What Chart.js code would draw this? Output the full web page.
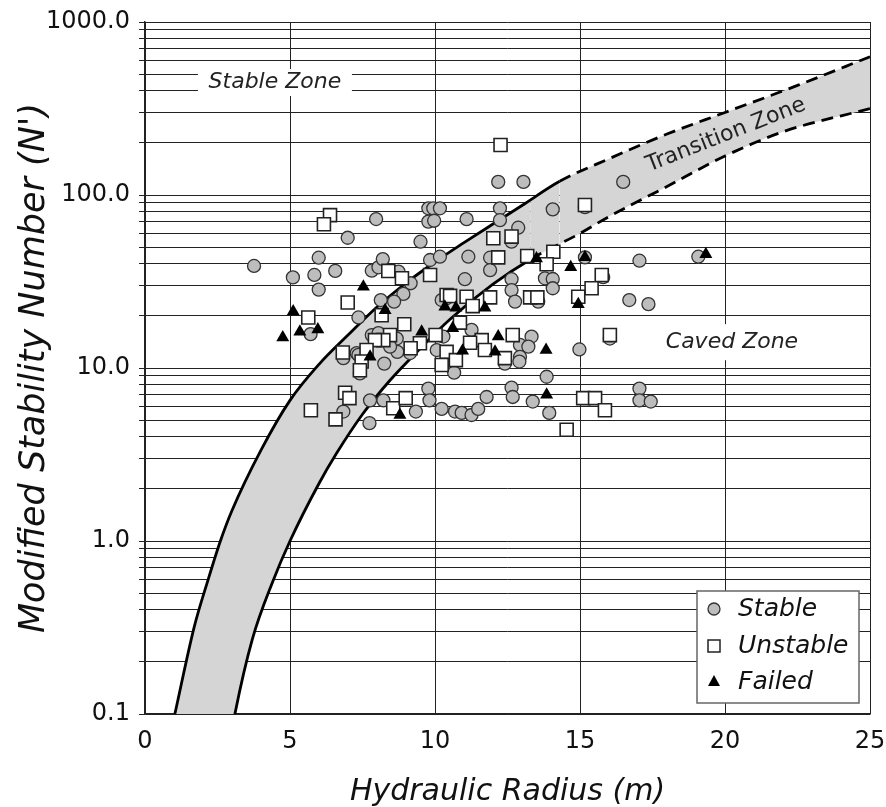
<!DOCTYPE html>
<html>
<head>
<meta charset="utf-8">
<script src="https://cdn.jsdelivr.net/npm/chart.js@4.4.0/dist/chart.umd.min.js"></script>
<style>
  html, body { margin: 0; padding: 0; background: #fff; }
</style>
</head>
<body>
<canvas id="stabilityChart" width="886" height="807"></canvas>
<script>
// Hydraulic radius (m), modified stability number N'
const stablePoints = [
  [3.76, 38.9], [5.10, 33.4], [5.84, 34.5], [5.99, 43.4], [5.99, 28.4], [6.56, 36.4],
  [6.99, 56.6], [7.97, 72.6], [7.82, 36.5], [8.05, 38.2], [8.20, 42.6], [8.13, 24.7],
  [7.36, 19.6], [5.71, 15.7], [9.77, 83.8], [9.94, 83.8], [10.17, 83.8], [9.77, 70.2],
  [9.97, 71.0], [9.50, 53.7], [8.74, 36.1], [9.16, 30.9], [9.83, 42.1], [10.17, 44.0],
  [8.91, 26.8], [8.59, 24.2], [10.40, 25.3], [10.29, 15.2], [7.82, 15.5], [8.05, 15.9],
  [8.68, 14.8], [8.70, 12.4], [8.45, 13.3], [9.14, 12.2], [10.06, 12.7], [6.84, 11.4],
  [7.30, 12.2], [7.41, 9.3], [8.25, 10.6], [6.84, 5.6], [7.74, 4.8], [7.76, 6.5],
  [8.22, 6.5], [9.34, 5.6], [9.77, 7.6], [9.81, 6.5], [10.23, 5.8], [12.18, 119],
  [13.05, 119], [12.24, 83.8], [11.09, 72.5], [12.24, 71.6], [12.87, 64.7], [14.06, 82.6],
  [15.17, 85.0], [12.64, 53.7], [11.15, 44.0], [11.90, 43.4], [11.90, 36.8], [15.17, 43.6],
  [11.03, 32.6], [12.64, 32.6], [13.79, 33.0], [14.06, 32.7], [14.06, 28.9], [12.64, 28.2],
  [12.76, 24.2], [13.56, 24.2], [11.26, 16.6], [13.33, 15.2], [12.93, 13.6], [13.22, 13.3],
  [12.41, 10.6], [12.93, 11.6], [12.91, 10.9], [14.98, 12.8], [10.66, 9.4], [13.85, 8.9],
  [12.64, 7.7], [12.68, 6.8], [11.78, 6.8], [13.37, 6.4], [13.94, 5.5], [10.69, 5.6],
  [10.92, 5.5], [11.26, 5.35], [11.49, 5.8], [16.49, 119], [17.05, 41.7], [19.08, 44.0],
  [16.70, 24.7], [17.36, 23.4], [17.05, 7.6], [17.05, 6.5], [17.44, 6.4], [10.23, 24.7],
  [7.36, 11.9], [16.03, 14.8], [15.80, 33.5]
];

const unstablePoints = [
  [6.38, 76.5], [6.17, 67.8], [8.39, 36.4], [8.86, 33.0], [6.99, 23.9], [5.63, 19.6],
  [9.83, 34.5], [10.40, 26.4], [8.16, 20.2], [8.94, 17.9], [10.02, 15.5], [8.45, 15.5],
  [8.22, 14.5], [7.93, 14.5], [9.48, 13.9], [9.16, 13.0], [10.40, 12.4], [10.23, 10.4],
  [6.82, 12.3], [7.64, 12.7], [7.47, 10.9], [7.41, 9.7], [6.90, 7.2], [7.05, 6.7],
  [5.72, 5.7], [6.57, 5.05], [8.56, 5.85], [8.99, 6.7], [12.26, 194.5], [15.17, 87.5],
  [12.01, 56.2], [12.64, 57.5], [12.18, 43.6], [13.18, 44.4], [14.08, 47.0], [13.85, 39.8],
  [15.75, 34.5], [15.40, 28.9], [14.94, 25.8], [10.52, 26.1], [11.09, 25.8], [11.30, 22.8],
  [11.90, 25.6], [13.28, 25.6], [13.53, 25.6], [10.86, 18.3], [11.61, 14.5], [11.21, 14.0],
  [12.68, 15.5], [11.72, 12.7], [12.41, 11.4], [10.72, 11.1], [15.11, 6.7], [15.52, 6.7],
  [15.86, 5.7], [14.54, 4.4], [16.03, 15.5]
];

const failedPoints = [
  [7.53, 29.5], [8.28, 21.6], [5.11, 21.2], [4.75, 15.0], [5.34, 16.2], [5.96, 16.7],
  [10.34, 22.6], [9.54, 16.2], [7.76, 11.6], [8.79, 5.35], [13.50, 43.0], [14.68, 38.2],
  [15.17, 43.6], [14.94, 23.4], [10.72, 22.3], [11.72, 22.3], [10.61, 17.0], [12.18, 15.2],
  [12.07, 12.4], [10.95, 12.6], [13.83, 12.7], [13.85, 7.0], [19.34, 45.4]
];

// stable / transition boundary (dashed from 14.3 on)
const upperBoundary = [
  [1.03, 0.1], [1.7, 0.32], [2.18, 0.6], [2.6, 1.0], [3.0, 1.5], [4.0, 3.35], [5.0, 6.5],
  [6.0, 10.5], [7.0, 15.5], [8.0, 22.5], [9.0, 31], [10.0, 41], [11.0, 53], [12.0, 68],
  [13.0, 87], [14.3, 120], [16.0, 162], [18.0, 225], [20.0, 300], [22.5, 430], [25.0, 630]
];
const upperDashFrom = 14.3;

// transition / caved boundary (dashed from 13.3 on); first point sits below the axis
const lowerBoundary = [
  [1.0, 0.001], [3.1, 0.1], [3.7, 0.27], [4.4, 0.58], [5.0, 1.0], [6.0, 2.15], [6.6, 3.2],
  [7.5, 5.4], [8.45, 8.5], [9.5, 13], [10.5, 19], [12.0, 30.5], [13.3, 42.5], [15.0, 60],
  [16.0, 75], [18.0, 112], [20.0, 168], [22.0, 232], [25.0, 316]
];
const lowerDashFrom = 13.3;

const xTicks = [0, 5, 10, 15, 20, 25];
const yGridValues = [
  0.1, 0.2, 0.3, 0.4, 0.5, 0.6, 0.7, 0.8, 0.9,
  1, 2, 3, 4, 5, 6, 7, 8, 9,
  10, 20, 30, 40, 50, 60, 70, 80, 90,
  100, 200, 300, 400, 500, 600, 700, 800, 900, 1000
];
const yLabelValues = [0.1, 1, 10, 100, 1000];

const FONT = '"DejaVu Sans", Verdana, sans-serif';
const toXY = arr => arr.map(([x, y]) => ({x, y}));

// zone labels + legend box drawn on top
const annotations = {
  id: 'annotations',
  afterDatasetsDraw(chart) {
    const {ctx, scales: {x, y}} = chart;
    ctx.save();
    ctx.textAlign = 'center';
    ctx.textBaseline = 'middle';

    // Stable Zone
    let px = x.getPixelForValue(4.48), py = y.getPixelForValue(450);
    ctx.fillStyle = '#fff';
    ctx.fillRect(px - 77, py - 13, 154, 27);
    ctx.fillStyle = '#222';
    ctx.font = 'italic 22px ' + FONT;
    ctx.fillText('Stable Zone', px, py);

    // Caved Zone
    px = x.getPixelForValue(20.24); py = y.getPixelForValue(14.1);
    ctx.fillStyle = '#fff';
    ctx.fillRect(px - 73, py - 18, 146, 36);
    ctx.fillStyle = '#222';
    ctx.fillText('Caved Zone', px, py);

    // Transition Zone (rotated along the band)
    px = x.getPixelForValue(20.03); py = y.getPixelForValue(222);
    ctx.save();
    ctx.translate(px, py);
    ctx.rotate(-21.5 * Math.PI / 180);
    ctx.font = '22px ' + FONT;
    ctx.fillText('Transition Zone', 0, 0);
    ctx.restore();
    ctx.restore();
  },
  afterDraw(chart) {
    const {ctx, chartArea: a} = chart;
    const bx = a.right - 173, by = a.bottom - 123;
    ctx.save();
    ctx.fillStyle = '#fff';
    ctx.fillRect(bx, by, 162, 112);
    ctx.strokeStyle = '#666';
    ctx.lineWidth = 1.5;
    ctx.strokeRect(bx, by, 162, 112);

    const mx = bx + 17;
    const rows = [by + 18, by + 55, by + 91];
    // circle
    ctx.beginPath();
    ctx.arc(mx, rows[0], 6, 0, Math.PI * 2);
    ctx.fillStyle = '#bdbdbd';
    ctx.fill();
    ctx.strokeStyle = '#333';
    ctx.lineWidth = 1.3;
    ctx.stroke();
    // square
    ctx.fillStyle = '#fff';
    ctx.fillRect(mx - 6, rows[1] - 6, 12, 12);
    ctx.strokeStyle = '#222';
    ctx.lineWidth = 1.5;
    ctx.strokeRect(mx - 6, rows[1] - 6, 12, 12);
    // triangle
    ctx.beginPath();
    ctx.moveTo(mx, rows[2] - 7);
    ctx.lineTo(mx + 6, rows[2] + 4);
    ctx.lineTo(mx - 6, rows[2] + 4);
    ctx.closePath();
    ctx.fillStyle = '#000';
    ctx.fill();

    ctx.fillStyle = '#111';
    ctx.font = 'italic 25px ' + FONT;
    ctx.textAlign = 'left';
    ctx.textBaseline = 'middle';
    ctx.fillText('Stable', bx + 41, rows[0]);
    ctx.fillText('Unstable', bx + 41, rows[1]);
    ctx.fillText('Failed', bx + 41, rows[2]);
    ctx.restore();
  }
};

new Chart(document.getElementById('stabilityChart'), {
  type: 'scatter',
  data: {
    datasets: [
      {
        label: 'Stable',
        data: toXY(stablePoints),
        pointStyle: 'circle',
        pointRadius: 6.5,
        pointBackgroundColor: '#bdbdbd',
        pointBorderColor: '#333',
        pointBorderWidth: 1.3,
        order: 2
      },
      {
        label: 'Unstable',
        data: toXY(unstablePoints),
        pointStyle: 'rect',
        pointRadius: 9.2,
        pointBackgroundColor: '#fff',
        pointBorderColor: '#222',
        pointBorderWidth: 1.6,
        order: 1
      },
      {
        label: 'Failed',
        data: toXY(failedPoints),
        pointStyle: 'triangle',
        pointRadius: 7.5,
        pointBackgroundColor: '#000',
        pointBorderColor: '#000',
        pointBorderWidth: 0,
        order: 0
      },
      {
        type: 'line',
        label: 'upper',
        data: toXY(upperBoundary),
        borderColor: '#000',
        borderWidth: 2.8,
        backgroundColor: '#d5d5d5',
        fill: '+1',
        pointRadius: 0,
        cubicInterpolationMode: 'monotone',
        clip: 0,
        segment: {
          borderDash: c => c.p0.parsed.x >= upperDashFrom - 1e-9 ? [12, 7] : undefined
        },
        order: 4
      },
      {
        type: 'line',
        label: 'lower',
        data: toXY(lowerBoundary),
        borderColor: '#000',
        borderWidth: 2.8,
        fill: false,
        pointRadius: 0,
        cubicInterpolationMode: 'monotone',
        clip: 0,
        segment: {
          borderDash: c => c.p0.parsed.x >= lowerDashFrom - 1e-9 ? [12, 7] : undefined
        },
        order: 3
      }
    ]
  },
  options: {
    responsive: false,
    animation: false,
    events: [],
    layout: { padding: { top: 22, right: 16, left: 0, bottom: 0 } },
    plugins: {
      legend: { display: false },
      tooltip: { enabled: false }
    },
    scales: {
      x: {
        type: 'linear',
        min: 0,
        max: 25,
        afterBuildTicks: s => { s.ticks = xTicks.map(v => ({value: v})); },
        afterFit: s => { s.height = 93; s.paddingLeft = 0; s.paddingRight = 0; },
        grid: { color: '#222', lineWidth: 1, drawTicks: false },
        border: { color: '#222', width: 1.5 },
        ticks: { color: '#111', font: { family: FONT, size: 24 }, padding: 13 },
        title: {
          display: true,
          text: 'Hydraulic Radius (m)',
          color: '#111',
          font: { family: FONT, size: 30, style: 'italic', lineHeight: 1 },
          padding: { top: 0, bottom: 0 }
        }
      },
      y: {
        type: 'logarithmic',
        min: 0.1,
        max: 1000,
        afterBuildTicks: s => { s.ticks = yGridValues.map(v => ({value: v})); },
        afterFit: s => { s.width = 145; s.paddingTop = 0; s.paddingBottom = 0; },
        grid: { color: '#222', lineWidth: 1, tickLength: 6 },
        border: { color: '#222', width: 1.5 },
        ticks: {
          autoSkip: false,
          color: '#111',
          font: { family: FONT, size: 24 },
          padding: 9,
          callback: v => yLabelValues.includes(v) ? v.toFixed(1) : ''
        },
        title: {
          display: true,
          text: "Modified Stability Number (N')",
          color: '#111',
          font: { family: FONT, size: 35, style: 'italic', lineHeight: 1 },
          padding: { top: 17, bottom: 0 }
        }
      }
    }
  },
  plugins: [annotations]
});
</script>
</body>
</html>
